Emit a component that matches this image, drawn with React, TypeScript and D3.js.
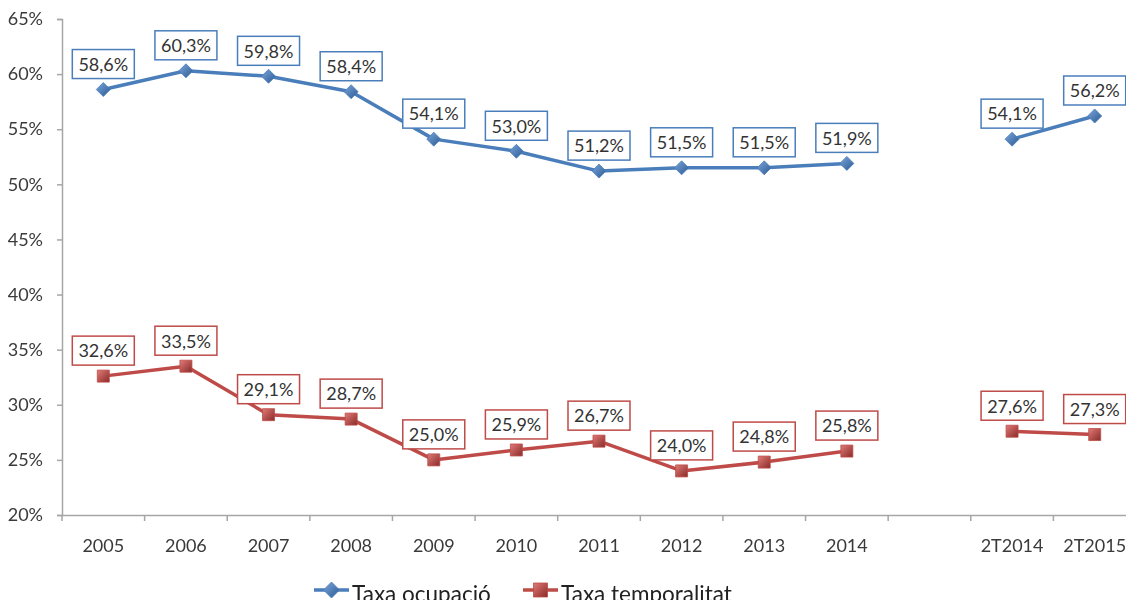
import React, { useEffect, useRef } from 'react'
import * as d3 from 'd3'

const categories = ['2005', '2006', '2007', '2008', '2009', '2010', '2011', '2012', '2013', '2014', '', '2T2014', '2T2015']
const ocupacio = [58.6, 60.3, 59.8, 58.4, 54.1, 53.0, 51.2, 51.5, 51.5, 51.9, null, 54.1, 56.2]
const temporalitat = [32.6, 33.5, 29.1, 28.7, 25.0, 25.9, 26.7, 24.0, 24.8, 25.8, null, 27.6, 27.3]
const yTicks = [20, 25, 30, 35, 40, 45, 50, 55, 60, 65]

const FONT = 'Lato, "Open Sans", sans-serif'
const BLUE = '#4a7ebb'
const RED = '#be4b48'

export default function App() {
  const ref = useRef<HTMLDivElement>(null)

  useEffect(() => {
    const el = ref.current
    if (!el) return
    el.innerHTML = ''
    const w = 1126, h = 600
    const svg = d3.select(el).append('svg').attr('width', w).attr('height', h)
      .style('position', 'fixed').style('left', 0).style('top', 0)
      .style('font-family', FONT)

    const left = 62, right = 1136, top = 19, bottom = 515
    const x = d3.scaleBand<string>().domain(categories.map((c, i) => i + '')).range([left, right])
    const y = d3.scaleLinear().domain([20, 65]).range([bottom, top])
    const cx = (i: number) => (x(i + '') as number) + x.bandwidth() / 2

    // axes
    const ay = d3.axisLeft(y).tickValues(yTicks).tickSize(5).tickFormat(d => d + '%')
    const gy = svg.append('g').attr('transform', `translate(${left},0)`).call(ay)
    gy.select('.domain').attr('stroke', '#a6a6a6').attr('stroke-width', 1.5)
    gy.selectAll('.tick line').attr('stroke', '#a6a6a6').attr('stroke-width', 1.5)
    gy.selectAll('.tick text').attr('font-size', 18).attr('fill', '#3a3a3a').attr('x', -19)
      .style('font-family', FONT)

    const ax = d3.axisBottom(x).tickSize(0).tickFormat((d: any) => categories[+d])
    const gx = svg.append('g').attr('transform', `translate(0,${bottom})`).call(ax)
    gx.select('.domain').attr('stroke', '#a6a6a6').attr('stroke-width', 1.5)
    gx.selectAll('.tick text').attr('font-size', 18).attr('fill', '#3a3a3a').attr('dy', 0).attr('y', 37)
      .style('font-family', FONT)
    // category boundary ticks
    const bounds = d3.range(categories.length + 1).map(i => left + i * x.step())
    svg.append('g').selectAll('line').data(bounds).join('line')
      .attr('x1', d => d).attr('x2', d => d).attr('y1', bottom).attr('y2', bottom + 6)
      .attr('stroke', '#a6a6a6').attr('stroke-width', 1.5)

    // gradients for markers
    const defs = svg.append('defs')
    const gb = defs.append('linearGradient').attr('id', 'gb').attr('x1', 0).attr('y1', 0).attr('x2', 1).attr('y2', 1)
    gb.append('stop').attr('offset', 0).attr('stop-color', '#7aa6dc')
    gb.append('stop').attr('offset', 1).attr('stop-color', '#2c5a91')
    const gr = defs.append('linearGradient').attr('id', 'gr').attr('x1', 0).attr('y1', 0).attr('x2', 1).attr('y2', 1)
    gr.append('stop').attr('offset', 0).attr('stop-color', '#e07b78')
    gr.append('stop').attr('offset', 1).attr('stop-color', '#8a2a28')

    const series = [
      { values: ocupacio, color: BLUE, fill: 'url(#gb)', shape: 'diamond' },
      { values: temporalitat, color: RED, fill: 'url(#gr)', shape: 'square' },
    ]

    series.forEach(s => {
      const pts = s.values.map((v, i) => ({ i, v }))
      const line = d3.line<{ i: number; v: number | null }>()
        .defined(d => d.v != null)
        .x(d => cx(d.i)).y(d => y(d.v as number))
      svg.append('path').attr('d', line(pts)).attr('fill', 'none')
        .attr('stroke', s.color).attr('stroke-width', 3.5).attr('stroke-linejoin', 'round')

      const valid = pts.filter(d => d.v != null)
      const mk = svg.append('g').selectAll('path').data(valid).join('path')
        .attr('transform', d => `translate(${cx(d.i)},${y(d.v as number)})`)
        .attr('fill', s.fill).attr('stroke', s.color).attr('stroke-width', 0.8)
      if (s.shape === 'diamond') mk.attr('d', 'M0,-7L7,0L0,7L-7,0Z')
      else mk.attr('d', 'M-6,-6H6V6H-6Z')

      // labels
      const lg = svg.append('g').selectAll('g').data(valid).join('g')
        .attr('transform', d => `translate(${cx(d.i)},${y(d.v as number) - 25})`)
      lg.append('rect').attr('x', -31).attr('y', -15).attr('width', 62).attr('height', 29)
        .attr('fill', '#fff').attr('stroke', s.color).attr('stroke-width', 1.5)
      lg.append('text').attr('text-anchor', 'middle').attr('dy', '0.35em').attr('font-size', 18)
        .attr('fill', '#333').text(d => (d.v as number).toFixed(1).replace('.', ',') + '%')
    })

    // legend
    const legend = [
      { name: 'Taxa ocupació', color: BLUE, fill: 'url(#gb)', shape: 'diamond', x: 314 },
      { name: 'Taxa temporalitat', color: RED, fill: 'url(#gr)', shape: 'square', x: 523 },
    ]
    const lgd = svg.append('g').selectAll('g').data(legend).join('g')
      .attr('transform', d => `translate(${d.x},590)`)
    lgd.append('line').attr('x1', 0).attr('x2', 35).attr('stroke', d => d.color).attr('stroke-width', 3.5)
    lgd.append('path').attr('transform', 'translate(17.5,0)')
      .attr('d', d => d.shape === 'diamond' ? 'M0,-8L8,0L0,8L-8,0Z' : 'M-7,-7H7V7H-7Z')
      .attr('fill', d => d.fill).attr('stroke', d => d.color).attr('stroke-width', 0.8)
    lgd.append('text').attr('x', 38).attr('y', 4).attr('dy', '0.35em').attr('font-size', 22.5).attr('fill', '#222')
      .text(d => d.name)
  }, [])

  return <div ref={ref} style={{ width: 1126, height: 600 }} />
}
